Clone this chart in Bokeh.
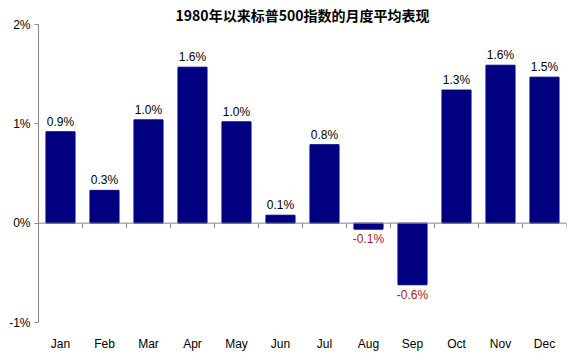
import numpy as np
from bokeh.plotting import figure
from bokeh.models import ColumnDataSource, LabelSet, Span, FixedTicker, Range1d
from bokeh.core.properties import value
from bokeh.embed import file_html
from bokeh.resources import INLINE

months = ["Jan", "Feb", "Mar", "Apr", "May", "Jun", "Jul", "Aug", "Sep", "Oct", "Nov", "Dec"]
avg_return = [0.92, 0.33, 1.04, 1.57, 1.02, 0.08, 0.79, -0.06, -0.62, 1.34, 1.59, 1.47]
y_ticks = [-1, 0, 1, 2]
title_text = "1980年以来标普500指数的月度平均表现"

FONT = "Liberation Sans"
NAVY = "#000080"
RED = "#9b1c1c"

n = len(months)
idx = np.arange(1, n + 1)

p = figure(width=576, height=353, output_backend="svg", toolbar_location=None,
           x_range=Range1d(0.5, n + 0.5), y_range=Range1d(-1, 2),
           min_border_left=38, min_border_right=10, min_border_bottom=29, min_border_top=24)
p.outline_line_color = None
p.xgrid.visible = False
p.ygrid.visible = False

p.title.text = title_text
p.title.align = "center"
p.title.text_font = "Noto Sans CJK SC"
p.title.text_font_size = "14px"
p.title.text_font_style = "bold"
p.title.text_color = "black"
p.title.standoff = 0

p.vbar(x=idx, top=avg_return, bottom=0, width=0.66, fill_color=NAVY, line_color=NAVY)

# zero line with category-boundary ticks
p.add_layout(Span(location=0, dimension="width", line_color="#888888", line_width=1))
bounds = np.arange(0.5, n + 1, 1.0)
p.segment(x0=bounds, y0=np.zeros_like(bounds), x1=bounds, y1=np.full_like(bounds, -0.05),
          line_color="#888888", line_width=1)

# x axis: labels only
xa = p.xaxis[0]
xa.ticker = FixedTicker(ticks=list(idx))
xa.major_label_overrides = {int(i): m for i, m in zip(idx, months)}
xa.axis_line_color = None
xa.major_tick_line_color = None
xa.minor_tick_line_color = None
xa.major_label_text_font = FONT
xa.major_label_text_font_size = "12px"
xa.major_label_text_color = "black"
xa.major_label_standoff = 8

# y axis
ya = p.yaxis[0]
ya.ticker = FixedTicker(ticks=y_ticks)
ya.major_label_overrides = {t: f"{t}%" for t in y_ticks}
ya.axis_line_color = "#888888"
ya.major_tick_line_color = "#888888"
ya.major_tick_in = 0
ya.major_tick_out = 4
ya.minor_tick_line_color = None
ya.major_label_text_font = FONT
ya.major_label_text_font_size = "12px"
ya.major_label_text_color = "black"
ya.major_label_standoff = 4

# value labels
pos = [(i, v) for i, v in zip(idx, avg_return) if v >= 0]
neg = [(i, v) for i, v in zip(idx, avg_return) if v < 0]
psrc = ColumnDataSource(dict(x=[a for a, b in pos], y=[b for a, b in pos],
                             t=[f"{b:.1f}%" for a, b in pos]))
nsrc = ColumnDataSource(dict(x=[a for a, b in neg], y=[b for a, b in neg],
                             t=[f"{b:.1f}%" for a, b in neg]))
p.add_layout(LabelSet(x="x", y="y", text="t", source=psrc, y_offset=3,
                      text_align="center", text_baseline="bottom",
                      text_color="black", text_font=value(FONT), text_font_size="12px"))
p.add_layout(LabelSet(x="x", y="y", text="t", source=nsrc, y_offset=-3,
                      text_align="center", text_baseline="top",
                      text_color=RED, text_font=value(FONT), text_font_size="12px"))

open("out.html", "w").write(file_html(p, INLINE))
